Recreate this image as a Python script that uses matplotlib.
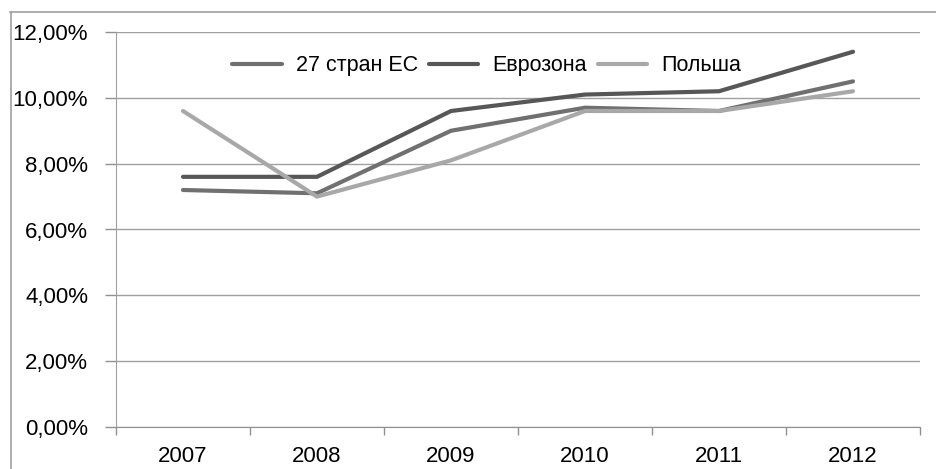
import matplotlib.pyplot as plt
from matplotlib.lines import Line2D
from matplotlib.ticker import FuncFormatter, FixedLocator

years = ['2007', '2008', '2009', '2010', '2011', '2012']
eu27 = [7.2, 7.1, 9.0, 9.7, 9.6, 10.5]
eurozone = [7.6, 7.6, 9.6, 10.1, 10.2, 11.4]
poland = [9.6, 7.0, 8.1, 9.6, 9.6, 10.2]

plt.rcParams['font.family'] = ['Liberation Sans', 'DejaVu Sans']

fig = plt.figure(figsize=(9.36, 4.69), dpi=100)
ax = fig.add_axes([116 / 936, 42 / 469, 804 / 936, 395 / 469])

# рамка вокруг диаграммы (видны только левая и верхняя стороны)
fig.add_artist(Line2D([10.5 / 936, 10.5 / 936], [0, 1 - 12 / 469], transform=fig.transFigure,
                      color='#a0a0a0', linewidth=1.2))
fig.add_artist(Line2D([10 / 936, 1], [1 - 12 / 469, 1 - 12 / 469], transform=fig.transFigure,
                      color='#a0a0a0', linewidth=1.2))

x = range(len(years))
ax.plot(x, eu27, color='#707070', linewidth=3, label='27 стран ЕС', solid_capstyle='round')
ax.plot(x, eurozone, color='#575757', linewidth=3, label='Еврозона', solid_capstyle='round')
ax.plot(x, poland, color='#a8a8a8', linewidth=3, label='Польша', solid_capstyle='round')

ax.set_xlim(-0.5, len(years) - 0.5)
ax.set_ylim(0, 12)
ax.set_yticks([0, 2, 4, 6, 8, 10, 12])
ax.yaxis.set_major_formatter(FuncFormatter(lambda v, p: f'{v:.2f}%'.replace('.', ',')))
ax.yaxis.grid(True, color='#a0a0a0', linewidth=1)
ax.set_axisbelow(True)

ax.set_xticks(list(x))
ax.set_xticklabels(years)
ax.xaxis.set_minor_locator(FixedLocator([i - 0.5 for i in range(len(years) + 1)]))
ax.tick_params(axis='x', which='major', length=0, pad=14, labelsize=16)
ax.tick_params(axis='x', which='minor', length=6, color='#909090', width=1)
ax.tick_params(axis='y', length=8, color='#909090', width=1, pad=12, labelsize=16)

for s in ['top', 'right']:
    ax.spines[s].set_visible(False)
ax.spines['left'].set_color('#a0a0a0')
ax.spines['bottom'].set_color('#909090')

ax.legend(loc='upper center', bbox_to_anchor=(0.461, 0.99), ncol=3, frameon=False,
          fontsize=15.5, handlelength=2.3, columnspacing=0.5, handletextpad=0.65)

fig.savefig('out.png', dpi=100)
